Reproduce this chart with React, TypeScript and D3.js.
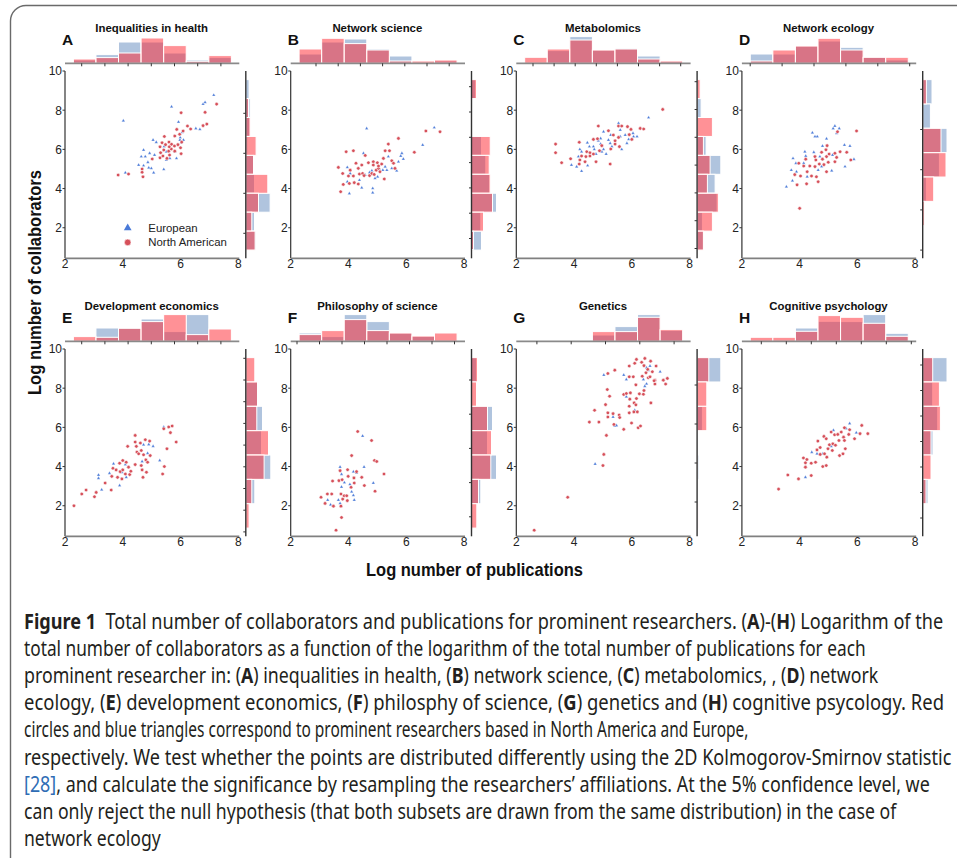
import React, { useLayoutEffect, useRef, useState } from 'react';
import * as d3 from 'd3';

type P = [number, number];

// ---------- labels ----------
const panelLetters = ['A', 'B', 'C', 'D', 'E', 'F', 'G', 'H'];
const panelTitles = ['Inequalities in health', 'Network science', 'Metabolomics', 'Network ecology',
  'Development economics', 'Philosophy of science', 'Genetics', 'Cognitive psychology'];
const xTicks = [2, 4, 6, 8];
const yTicks = [2, 4, 6, 8, 10];
const xDomain: P = [2, 8];
const yDomain: P = [0.44, 10];
const xBinRange: P = [2.29, 7.76];
const yBinRange: P = [0.86, 9.56];
const seriesNames = ['European', 'North American'];

// ---------- scatter data (log publications, log collaborators) ----------
const naA: P[] = [[3.84,4.69],[4.2,4.74],[4.67,5.0],[4.67,4.83],[4.7,4.6],[5.02,5.51],[5.29,5.57],[5.39,5.66],[5.53,5.54],[5.62,5.71],[5.31,5.83],[5.42,5.97],[5.59,5.91],[5.68,6.02],[5.8,5.91],[6.02,5.78],[5.29,6.13],[5.61,6.13],[6.0,6.08],[5.36,6.34],[5.48,6.24],[5.6,6.37],[5.69,6.26],[5.79,6.17],[5.91,6.24],[6.04,6.37],[5.44,6.66],[5.8,6.68],[5.97,6.77],[5.87,7.02],[6.09,6.94],[6.24,7.19],[6.35,7.04],[6.78,7.21],[6.91,7.29],[6.02,7.87],[6.85,7.89],[7.25,8.31]];
const euA: P[] = [[4.02,7.46],[5.69,8.18],[5.93,7.4],[6.78,8.31],[6.85,8.4],[7.15,8.77],[6.67,7.02],[6.53,7.07],[6.06,6.87],[5.99,6.6],[6.1,6.48],[6.03,6.34],[5.05,6.48],[5.16,6.36],[4.72,5.97],[4.64,5.63],[4.78,5.63],[4.93,5.8],[5.1,5.71],[4.55,5.2],[4.72,5.17],[4.9,5.06],[4.87,5.34],[4.99,5.03],[5.07,4.81],[5.42,4.98],[4.09,4.81],[5.51,5.46],[5.63,5.54],[5.43,6.14],[5.51,5.88],[5.8,5.88],[5.86,5.54],[5.98,6.48]];
const naB: P[] = [[3.73,3.84],[3.65,5.08],[3.8,4.77],[3.82,4.21],[3.92,5.88],[4.0,4.64],[4.06,4.94],[4.03,4.26],[4.17,5.93],[4.17,4.64],[4.2,4.3],[4.26,5.29],[4.34,5.03],[4.34,4.23],[4.38,4.74],[4.46,5.2],[4.49,4.77],[4.54,4.66],[4.58,5.69],[4.69,5.32],[4.73,4.66],[4.81,4.77],[4.86,5.37],[4.86,5.2],[4.89,4.72],[4.96,4.94],[5.0,5.32],[5.04,5.03],[5.04,5.15],[5.09,4.86],[5.15,5.25],[5.21,5.54],[5.24,4.49],[5.27,5.93],[5.38,6.27],[5.42,5.93],[5.5,5.42],[5.56,5.29],[5.61,5.03],[5.73,6.56],[6.28,5.85],[6.68,6.94],[7.17,6.9]];
const euB: P[] = [[4.63,7.07],[6.97,7.11],[6.57,6.22],[5.85,5.8],[5.81,5.66],[5.9,5.51],[5.73,5.37],[5.38,5.63],[5.27,5.11],[5.33,4.94],[5.19,4.94],[5.07,4.98],[4.92,4.52],[5.01,4.6],[4.84,4.01],[4.84,3.79],[4.46,4.04],[4.38,4.43],[4.06,4.77],[3.96,5.08],[3.96,4.35],[4.03,3.75],[4.52,5.8],[4.58,4.69],[4.73,4.82],[4.81,4.91],[5.67,4.91],[5.5,5.03]];
const naC: P[] = [[3.36,6.27],[3.36,5.83],[3.57,5.32],[3.88,5.52],[4.18,6.36],[4.2,5.46],[4.18,5.25],[4.26,5.66],[4.38,5.37],[4.41,5.63],[4.44,5.88],[4.55,5.83],[4.55,5.66],[4.67,6.51],[4.67,5.76],[4.76,5.37],[4.81,6.54],[4.84,7.19],[4.88,5.93],[4.96,6.19],[5.19,6.95],[5.25,5.25],[5.27,6.02],[5.36,6.73],[5.42,6.27],[5.42,6.44],[5.54,7.19],[5.54,6.61],[5.57,6.14],[5.65,7.19],[5.85,7.16],[5.91,6.75],[5.97,7.02],[6.0,6.51],[6.29,7.07],[6.41,7.04],[7.07,8.04]];
const euC: P[] = [[3.91,5.2],[4.09,5.11],[4.26,4.89],[4.15,5.63],[4.2,6.0],[4.26,5.88],[4.47,5.17],[4.46,6.34],[4.53,6.14],[4.67,6.14],[4.7,6.0],[4.76,5.76],[4.84,6.44],[4.92,6.56],[4.92,6.27],[4.96,5.88],[5.02,6.9],[5.02,6.0],[5.11,5.76],[5.19,6.48],[5.25,6.31],[5.31,6.14],[5.27,6.73],[5.54,7.33],[5.6,6.99],[5.6,6.65],[5.65,6.0],[5.77,6.73],[5.83,6.31],[5.89,6.51],[6.04,6.82],[6.06,6.65],[6.18,6.65],[6.58,7.62]];
const naD: P[] = [[4.0,2.99],[3.91,4.19],[3.83,4.71],[4.03,4.64],[3.97,5.29],[4.14,5.15],[4.24,4.24],[4.21,5.5],[4.26,4.86],[4.35,5.15],[4.41,4.64],[4.53,5.63],[4.56,5.46],[4.58,4.6],[4.64,4.35],[4.68,5.25],[4.76,5.85],[4.79,5.5],[4.84,5.22],[4.91,5.98],[4.93,5.63],[4.95,6.19],[4.93,4.86],[4.99,5.34],[5.02,5.76],[5.22,5.8],[5.22,5.37],[5.28,5.59],[5.31,6.9],[5.4,5.88],[5.63,5.85],[5.77,5.46],[5.97,6.94],[4.53,5.12]];
const euD: P[] = [[3.54,4.09],[3.75,4.4],[3.71,4.94],[3.77,5.54],[3.87,5.29],[3.89,4.86],[4.18,5.88],[4.21,5.66],[4.14,5.29],[4.26,4.6],[4.44,6.85],[4.53,6.65],[4.61,6.65],[4.49,5.85],[4.64,4.94],[4.79,6.17],[4.93,6.54],[5.16,7.07],[5.22,7.19],[5.37,7.07],[5.28,6.82],[5.14,5.71],[5.11,4.91],[5.55,6.22],[5.74,6.17],[5.88,5.5],[5.57,5.12],[4.76,5.12],[4.7,5.63]];
const naE: P[] = [[2.31,2.0],[2.58,2.6],[2.73,2.8],[3.02,2.46],[3.08,2.68],[3.39,3.16],[3.6,2.8],[3.62,3.5],[3.66,3.91],[3.77,3.83],[3.82,3.45],[3.89,4.17],[3.91,3.74],[3.97,3.37],[4.0,4.31],[4.0,3.83],[4.09,3.62],[4.12,4.22],[4.17,5.03],[4.2,3.97],[4.24,3.59],[4.28,3.76],[4.43,4.1],[4.43,5.59],[4.43,5.25],[4.47,5.03],[4.49,4.74],[4.55,4.65],[4.61,5.2],[4.64,4.82],[4.64,4.05],[4.67,3.83],[4.7,3.45],[4.72,4.6],[4.78,5.37],[4.8,4.34],[4.82,3.71],[4.86,4.22],[4.93,5.3],[4.95,4.56],[5.38,3.62],[5.44,4.0],[5.53,4.91],[5.42,5.93],[5.59,6.02],[5.65,5.73],[5.71,6.07],[5.85,5.25]];
const euE: P[] = [[3.16,3.57],[3.16,3.4],[3.27,2.82],[3.68,4.14],[3.54,3.66],[3.89,3.03],[4.09,4.1],[4.12,3.45],[4.72,5.11],[4.9,5.13],[4.86,4.68],[5.05,5.04],[4.67,4.26],[5.28,4.31],[5.42,6.02],[3.97,3.71]];
const naF: P[] = [[3.05,2.43],[3.19,2.12],[3.27,2.6],[3.42,2.6],[3.45,3.26],[3.48,1.98],[3.57,0.75],[3.67,3.28],[3.71,3.79],[3.74,2.6],[3.74,1.98],[3.76,1.4],[3.78,3.33],[3.8,2.34],[3.85,2.51],[3.94,2.51],[3.96,2.26],[3.97,3.84],[3.99,3.5],[4.09,2.94],[4.11,4.56],[4.19,3.42],[4.2,3.16],[4.28,3.74],[4.32,5.79],[4.46,3.45],[4.55,3.03],[4.8,5.33],[4.9,4.31],[4.92,2.74],[4.98,4.26],[5.23,3.62]];
const euF: P[] = [[3.28,2.29],[3.38,2.05],[3.65,2.29],[3.71,3.98],[3.76,3.61],[3.76,2.96],[3.86,3.18],[3.71,2.12],[4.11,2.71],[4.17,2.53],[4.2,2.29],[4.17,3.74],[4.28,3.67],[4.49,5.56],[4.54,3.98],[4.86,3.16],[4.05,3.09]];
const naG: P[] = [[2.62,0.75],[3.78,2.43],[4.53,6.27],[4.71,6.87],[4.86,6.27],[5.0,4.05],[5.03,4.62],[5.09,7.16],[5.12,5.59],[5.15,7.93],[5.17,8.75],[5.17,6.74],[5.17,6.53],[5.23,7.59],[5.35,6.7],[5.38,6.15],[5.41,8.92],[5.56,6.63],[5.58,6.5],[5.72,5.9],[5.72,7.68],[5.81,7.73],[5.91,9.13],[5.91,8.58],[5.91,7.08],[5.91,6.74],[5.93,7.44],[5.95,7.76],[5.99,6.22],[6.05,8.58],[6.07,6.79],[6.08,7.25],[6.1,9.27],[6.14,8.17],[6.14,7.15],[6.16,9.47],[6.16,7.47],[6.19,6.79],[6.22,5.98],[6.26,7.71],[6.3,6.07],[6.34,9.32],[6.36,8.61],[6.4,7.69],[6.42,9.15],[6.45,9.52],[6.49,8.79],[6.55,8.96],[6.57,8.53],[6.63,8.58],[6.65,9.38],[6.66,7.25],[6.71,8.84],[6.8,8.41],[6.8,8.21],[6.84,9.13],[7.09,8.41],[7.17,8.21],[7.23,8.5],[6.77,8.38],[6.42,7.88]];
const euG: P[] = [[4.73,4.13],[5.03,8.67],[5.35,6.53],[5.41,6.07],[5.47,6.1],[5.72,8.67],[5.81,8.44],[5.81,7.56],[6.4,8.44],[6.45,8.1],[6.51,9.04],[6.57,8.92],[6.63,9.13],[6.98,8.84],[6.51,8.22],[6.1,6.87]];
const naH: P[] = [[3.27,2.85],[3.59,3.57],[3.96,3.37],[4.13,4.44],[4.2,4.19],[4.2,3.97],[4.25,4.36],[4.4,3.54],[4.4,4.17],[4.55,4.22],[4.6,4.85],[4.63,5.3],[4.71,4.62],[4.71,4.97],[4.8,4.0],[4.84,5.54],[4.86,4.65],[4.92,5.42],[4.94,4.48],[4.98,4.91],[5.03,5.11],[5.09,5.76],[5.13,4.82],[5.15,5.16],[5.21,5.62],[5.24,5.09],[5.32,5.64],[5.36,5.33],[5.38,4.56],[5.44,5.76],[5.5,4.65],[5.52,5.5],[5.55,5.98],[5.55,5.33],[5.58,4.91],[5.7,5.64],[5.73,5.88],[5.9,5.42],[6.09,5.68],[6.15,6.1],[6.36,5.68],[4.92,4.05]];
const euH: P[] = [[4.2,3.45],[4.42,4.73],[4.6,4.65],[5.73,6.2],[5.96,5.73],[5.17,5.85],[5.61,5.94],[4.8,4.65],[5.09,5.04]];

const northAmerican = [naA, naB, naC, naD, naE, naF, naG, naH];
const european = [euA, euB, euC, euD, euE, euF, euG, euH];

// ---------- marginal histograms (relative frequency, arbitrary units) ----------
const topBlue: number[][] = [
  [3.3, 8.7, 21.3, 21.3, 10.3, 3.3, 5.7],
  [9.3, 21.3, 24.3, 14.3, 7.3, 1, 2.3],
  [1, 12.7, 26.7, 13.3, 15, 7.3, 2],
  [9.3, 9.3, 17.3, 22.3, 16, 6, 3.3],
  [0, 13.3, 13.3, 22.3, 9.7, 26.7, 0],
  [8.3, 4.7, 26.7, 19.7, 8.3, 5, 1],
  [0, 0, 0, 6.3, 14.7, 26.7, 11],
  [1, 0, 13.3, 20, 19.7, 26.7, 8],
];
const topRed: number[][] = [
  [4.3, 5.7, 10.3, 25.3, 17.7, 2, 7.7],
  [14.3, 25, 19.7, 13.3, 2.3, 2.3, 3.3],
  [6, 14.3, 23.3, 13.3, 14.3, 4.3, 2.3],
  [2.3, 13.3, 17.3, 25, 13.3, 6, 6],
  [4.7, 4, 13, 19.7, 26.7, 6.7, 12.3],
  [6.7, 10.7, 21.7, 10.7, 8.3, 5.3, 8.3],
  [0, 0, 0, 9.7, 9.7, 24, 11.7],
  [4, 4, 10, 25.7, 24, 18, 5],
];
// right histograms, bins listed from the top (high values) downwards
const rightBlue: number[][] = [
  [3.3, 4.3, 4, 2, 8.7, 8.7, 24.3, 8.7, 10],
  [4, 0, 2, 10, 14.3, 18, 25, 9.3, 10],
  [0, 4, 1.3, 9, 23.7, 18, 20, 5.3, 6.3],
  [9.3, 7.7, 24.3, 16.7, 3.7, 0, 0],
  [0, 12.7, 16.7, 15.7, 25, 9, 0],
  [5, 0, 21, 16, 25, 9.3, 0],
  [23.7, 1.3, 5.3, 0, 1.7, 0, 0],
  [24.3, 10, 15, 10.3, 0, 5.3, 0],
];
const rightRed: number[][] = [
  [0, 2.7, 4.3, 10.3, 7.7, 22, 12.7, 6, 9.3],
  [5, 0, 1, 18.7, 17.7, 18.7, 21, 12, 2],
  [3, 0, 15.3, 6.3, 13, 10.3, 21.3, 15.3, 6.3],
  [3.7, 0, 18.3, 23.3, 11, 1.7, 1],
  [9, 11.7, 11, 22.7, 18.3, 6, 3.3],
  [6, 5, 16, 20, 19.3, 7, 5.3],
  [11.7, 9.7, 9.7, 0, 0.3, 0, 1],
  [10, 16.7, 17.7, 8.3, 8.3, 3.3, 0],
];

// ---------- layout ----------
const W = 957, H = 858;
const colLeft = [65, 290.7, 516.3, 741.9];
const rowTop = [71, 349];
const plotW = 173.3, plotH = 187.3;
// marginal axis tick layout: [offset, step, count]
const topTickLayout: number[][] = [[16.7, 23.2, 7], [25.3, 22.2, 7], [16.7, 21.1, 8], [8.3, 31.9, 6], [16.7, 23.2, 7], [6.3, 22.5, 8], [20.6, 34.3, 5], [19.4, 25, 7]];
const rightTickLayout: number[][] = [[42.3, 40, 4], [15.7, 25.3, 7], [10.7, 27.8, 7], [18.3, 40.2, 5], [9.3, 21.7, 9], [31, 34.2, 5], [36, 39, 4], [16, 25.5, 7]];

const FONT = "'Liberation Sans', Arial, Helvetica, sans-serif";
const CAPFONT = "'Noto Sans', 'Open Sans', sans-serif";
const BLUE_BAR = '#b0c4de';
const RED_BAR = 'rgb(255,35,45)';
const RED_PT = '#d6505a';
const BLUE_PT = '#4a7ad8';

function Panel({ i }: { i: number }) {
  const col = i % 4, row = Math.floor(i / 4);
  const L = colLeft[col], T = rowTop[row];
  const R = L + plotW, B = T + plotH;
  const x = d3.scaleLinear().domain(xDomain).range([L, R]);
  const y = d3.scaleLinear().domain(yDomain).range([B, T]);
  const len = d3.scaleLinear().domain([0, 30]).range([0, 30]);
  const topBase = T - 7.7;
  const axX = R + 7.5;

  const nTop = topBlue[i].length;
  const tw = (xBinRange[1] - xBinRange[0]) / nTop;
  const tEdges = d3.range(nTop + 1).map(k => xBinRange[0] + k * tw);
  const nR = rightBlue[i].length;
  const rw = (yBinRange[1] - yBinRange[0]) / nR;

  const tri = d3.symbol().type(d3.symbolTriangle).size(5)() || '';
  const triLegend = d3.symbol().type(d3.symbolTriangle).size(26)() || '';

  const topBars = (vals: number[], fill: string, op: number, key: string) =>
    vals.map((v, k) => v > 0 ? (
      <rect key={key + k} x={x(tEdges[k])} y={topBase - len(v)} width={x(tEdges[k + 1]) - x(tEdges[k])}
        height={len(v)} fill={fill} fillOpacity={op} stroke="#fff" strokeWidth={1} />
    ) : null);
  const rightBars = (vals: number[], fill: string, op: number, key: string) =>
    vals.map((v, k) => {
      if (v <= 0) return null;
      const hi = yBinRange[1] - k * rw, lo = hi - rw;
      return <rect key={key + k} x={axX} y={y(hi)} width={len(v)} height={y(lo) - y(hi)}
        fill={fill} fillOpacity={op} stroke="#fff" strokeWidth={1} />;
    });

  const [tOff, tStep, tN] = topTickLayout[i];
  const [rOff, rStep, rN] = rightTickLayout[i];

  return (
    <g>
      <text x={(L + R) / 2} y={T - 38.7} textAnchor="middle" fontFamily={FONT} fontWeight={700} fontSize={11.4} fill="#111">{panelTitles[i]}</text>
      <text x={L - 3} y={T - 26.5} fontFamily={FONT} fontWeight={700} fontSize={15.5} fill="#111">{panelLetters[i]}</text>

      {topBars(topBlue[i], BLUE_BAR, 1, 'tb')}
      {topBars(topRed[i], RED_BAR, 0.5, 'tr')}
      <line x1={L} x2={R + 1} y1={topBase} y2={topBase} stroke="#8a8a8a" strokeWidth={1.8} />
      {d3.range(tN).map(j => (
        <line key={'tt' + j} x1={L + tOff + j * tStep} x2={L + tOff + j * tStep} y1={topBase} y2={topBase + 3} stroke="#333" strokeWidth={1} />
      ))}

      {rightBars(rightBlue[i], BLUE_BAR, 1, 'rb')}
      {rightBars(rightRed[i], RED_BAR, 0.5, 'rr')}
      <line x1={axX} x2={axX} y1={T} y2={B} stroke="#333" strokeWidth={1.4} />
      {d3.range(rN).map(j => (
        <line key={'rt' + j} x1={axX - 2.5} x2={axX} y1={T + rOff + j * rStep} y2={T + rOff + j * rStep} stroke="#333" strokeWidth={1} />
      ))}

      {european[i].map((p, k) => (
        <path key={'e' + k} d={tri} transform={`translate(${x(p[0])},${y(p[1])})`} fill={BLUE_PT} stroke="#fff" strokeWidth={0.3} />
      ))}
      {northAmerican[i].map((p, k) => (
        <circle key={'n' + k} cx={x(p[0])} cy={y(p[1])} r={1.8} fill={RED_PT} stroke="#fff" strokeWidth={0.6} />
      ))}

      <line x1={L} x2={L} y1={T} y2={B} stroke="#333" strokeWidth={1.2} />
      <line x1={L} x2={R + 1} y1={B} y2={B} stroke="#808080" strokeWidth={1.8} />
      {yTicks.map(t => (
        <g key={'yt' + t}>
          <line x1={L - 2.5} x2={L} y1={y(t)} y2={y(t)} stroke="#333" strokeWidth={1} />
          <text x={L - 3} y={y(t)} dy="0.36em" textAnchor="end" fontFamily={FONT} fontSize={12} fill="#222">{t}</text>
        </g>
      ))}
      {xTicks.map(t => (
        <text key={'xt' + t} x={x(t)} y={B + 9.2} textAnchor="middle" fontFamily={FONT} fontSize={12} fill="#222">{t}</text>
      ))}

      {i === 0 && (
        <g fontFamily={FONT} fontSize={11.4} fill="#222">
          <path d={triLegend} transform={`translate(${L + 62.7},${T + 157})`} fill={BLUE_PT} />
          <circle cx={L + 62.7} cy={T + 171.4} r={3.3} fill={RED_PT} stroke="#fff" strokeWidth={0.6} />
          <text x={L + 83.3} y={T + 160.5}>{seriesNames[0]}</text>
          <text x={L + 83.3} y={T + 175.3}>{seriesNames[1]}</text>
        </g>
      )}
    </g>
  );
}

type Seg = { t: string; b?: boolean; c?: string };
const captionLines: Seg[][] = [
  [{ t: 'Figure 1', b: true }, { t: '  Total number of collaborators and publications for prominent researchers. (' }, { t: 'A', b: true }, { t: ')-(' }, { t: 'H', b: true }, { t: ') Logarithm of the' }],
  [{ t: 'total number of collaborators as a function of the logarithm of the total number of publications for each' }],
  [{ t: 'prominent researcher in: (' }, { t: 'A', b: true }, { t: ') inequalities in health, (' }, { t: 'B', b: true }, { t: ') network science, (' }, { t: 'C', b: true }, { t: ') metabolomics, , (' }, { t: 'D', b: true }, { t: ') network' }],
  [{ t: 'ecology, (' }, { t: 'E', b: true }, { t: ') development economics, (' }, { t: 'F', b: true }, { t: ') philosphy of science, (' }, { t: 'G', b: true }, { t: ') genetics and (' }, { t: 'H', b: true }, { t: ') cognitive psycology. Red' }],
  [{ t: 'circles and blue triangles correspond to prominent researchers based in North America and Europe,' }],
  [{ t: 'respectively. We test whether the points are distributed differently using the 2D Kolmogorov-Smirnov statistic' }],
  [{ t: '[28]', c: '#2f6db5' }, { t: ', and calculate the significance by resampling the researchers\u2019 affiliations. At the 5% confidence level, we' }],
  [{ t: 'can only reject the null hypothesis (that both subsets are drawn from the same distribution) in the case of' }],
  [{ t: 'network ecology' }],
];
// right end of each caption line (null: use the mean compression of the others)
const captionEnds: (number | null)[] = [943, 865, 878, 943.5, 748, 951, 929.5, 896, null];
const CAP_X = 24, CAP_Y0 = 629, CAP_DY = 27.1;

function Caption() {
  const refs = useRef<(SVGTextElement | null)[]>([]);
  const [scales, setScales] = useState<number[]>(captionLines.map(() => 0.85));
  useLayoutEffect(() => {
    const raw = captionLines.map((_, i) => {
      const el = refs.current[i];
      const end = captionEnds[i];
      if (!el || end == null) return NaN;
      const w = el.getComputedTextLength();
      return w > 0 ? (end - CAP_X) / w : NaN;
    });
    const valid = raw.filter(v => !isNaN(v));
    const mean = valid.length ? (d3.mean(valid) as number) : 0.85;
    setScales(raw.map(v => (isNaN(v) ? mean : v)));
  }, []);
  return (
    <g>
      {captionLines.map((segs, li) => (
        <text key={li} ref={el => { refs.current[li] = el; }} x={0} y={0}
          transform={`translate(${CAP_X},${CAP_Y0 + li * CAP_DY}) scale(${scales[li]},1)`}
          fontFamily={CAPFONT} fontSize={21} fill="#231f20" style={{ whiteSpace: 'pre' }}>
          {segs.map((s, k) => (
            <tspan key={k} fontWeight={s.b ? 700 : 400} fill={s.c || '#231f20'}>{s.t}</tspan>
          ))}
        </text>
      ))}
    </g>
  );
}

export default function App() {
  return (
    <svg width={W} height={H} viewBox={`0 0 ${W} ${H}`} style={{ position: 'absolute', left: 0, top: 0, display: 'block' }}>
      <rect width={W} height={H} fill="#fff" />
      <path d="M10.5,866 V21 A15.5,15.5 0 0 1 26,5.5 H966" fill="none" stroke="#6a6a6a" strokeWidth={1.4} />
      {panelTitles.map((_, i) => <Panel key={i} i={i} />)}

      <text transform="translate(41,282.5) rotate(-90)" textAnchor="middle" fontFamily={FONT} fontWeight={700}
        fontSize={19} fill="#111" textLength={225} lengthAdjust="spacingAndGlyphs">Log number of collaborators</text>
      <text x={474.5} y={576} textAnchor="middle" fontFamily={FONT} fontWeight={700}
        fontSize={19} fill="#111" textLength={217} lengthAdjust="spacingAndGlyphs">Log number of publications</text>

      <Caption />
    </svg>
  );
}
